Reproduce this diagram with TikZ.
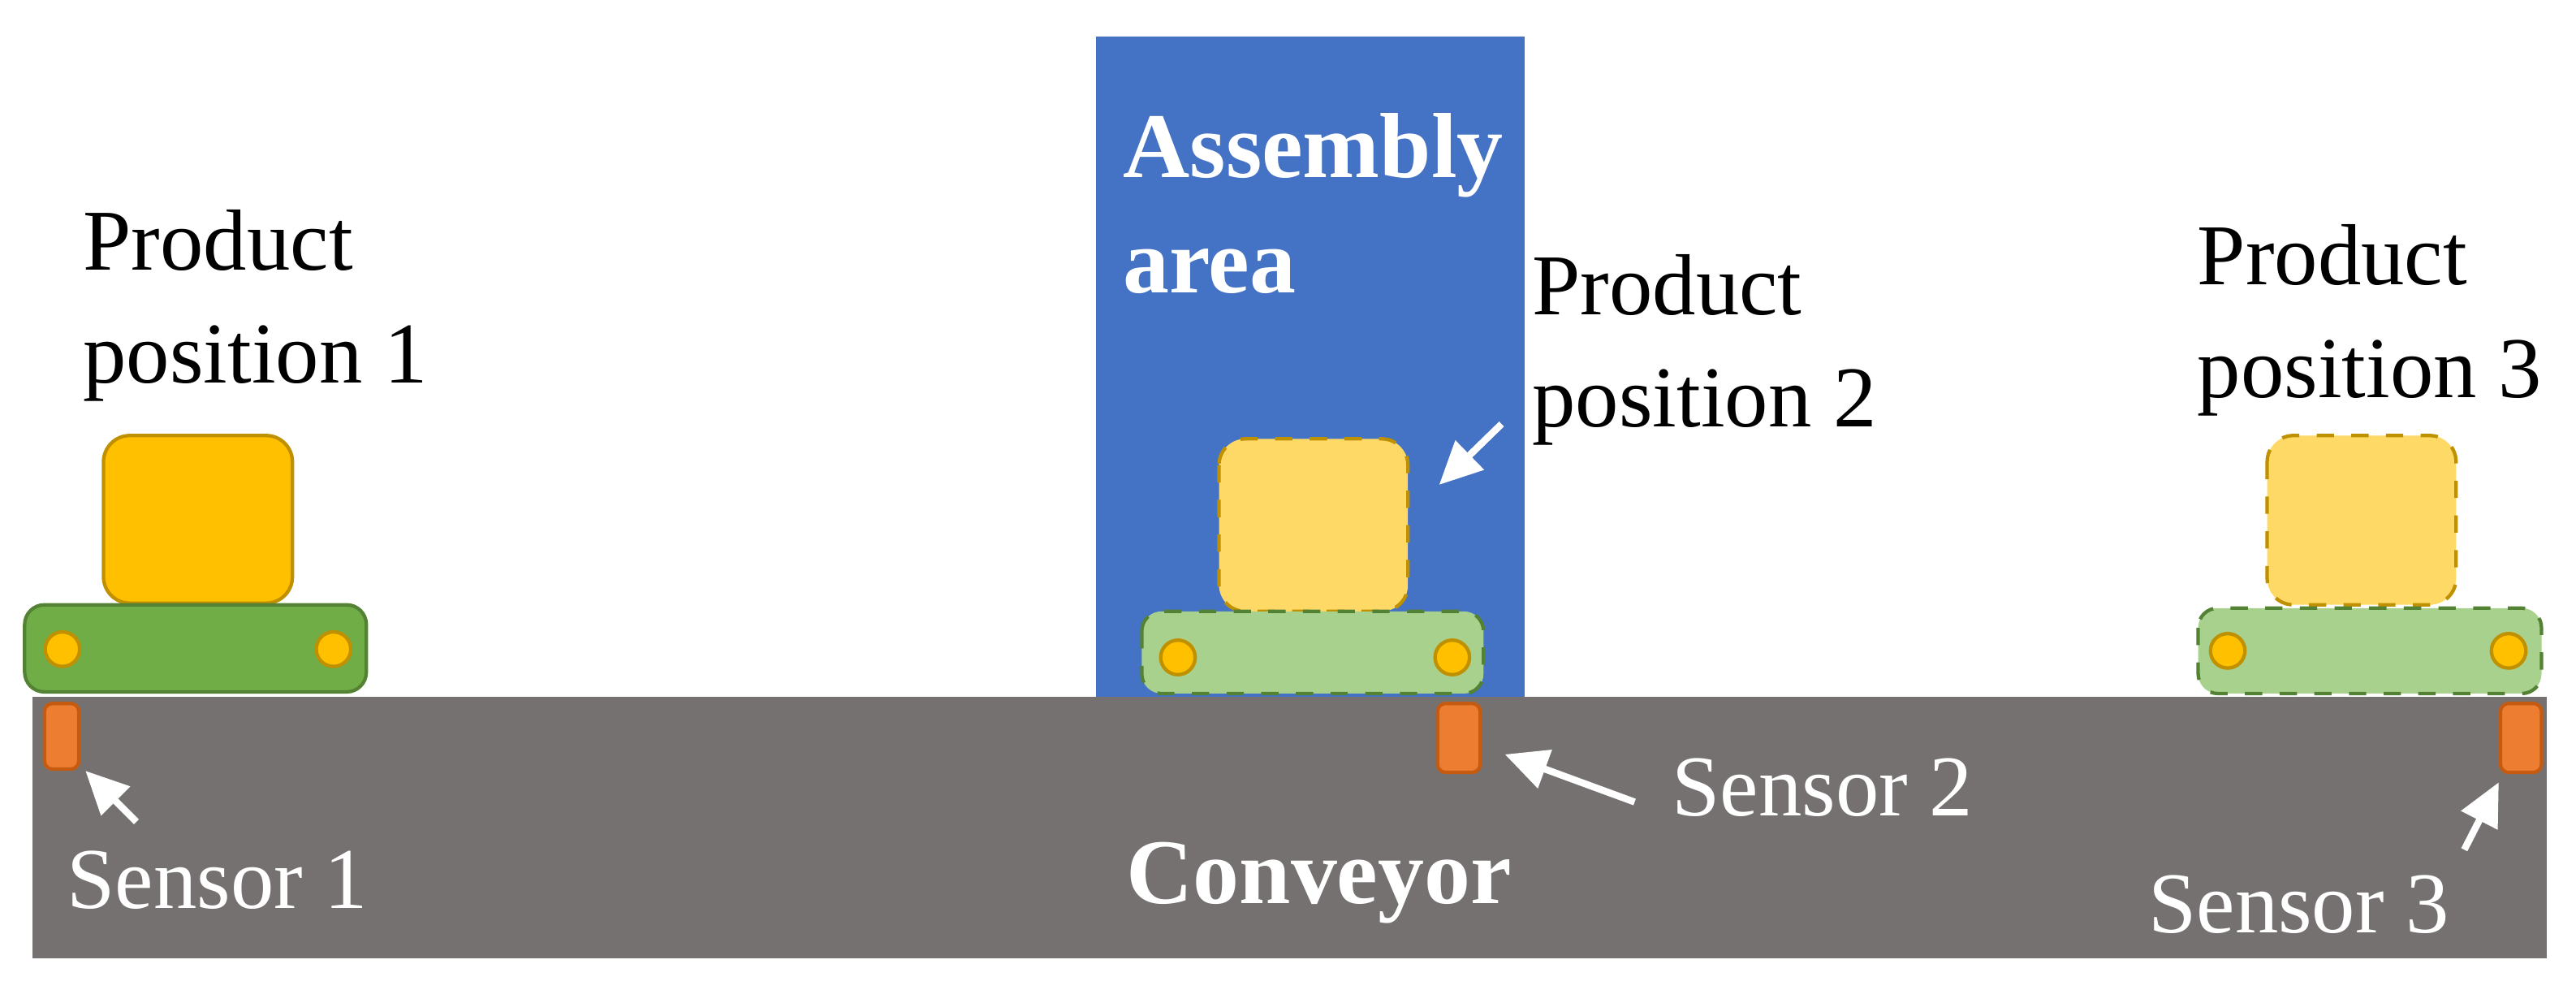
\documentclass[tikz,border=0pt]{standalone}
\usetikzlibrary{arrows.meta}
\usepackage{fontspec}
\setmainfont{Liberation Serif}
\begin{document}
\begin{tikzpicture}[x=0.01cm,y=-0.01cm,
  txt/.style={font=\fontsize{15}{19.5}\selectfont, inner sep=0pt, align=left, anchor=north west},
  wtxt/.style={txt, text=white},
  btxt/.style={wtxt, font=\fontsize{16}{20}\selectfont\bfseries},
  box/.style={rounded corners=1.6mm, line width=0.6pt},
  prod/.style={box, fill=prodY, draw=prodYD},
  prodg/.style={box, fill=prodYL, draw=prodYD, dashed},
  base/.style={box, rounded corners=1.2mm, fill=baseG, draw=baseGD},
  baseg/.style={box, rounded corners=1.2mm, fill=baseGL, draw=baseGD, dashed},
  wheel/.style={circle, fill=prodY, draw=prodYD, line width=0.6pt, minimum size=0.21cm, inner sep=0pt},
  sens/.style={fill=sensO, draw=sensOD, line width=0.6pt, rounded corners=0.5mm},
  warr/.style={-{Triangle[length=0.26cm,width=0.24cm]}, white, line width=1.2pt}]
\definecolor{prodY}{HTML}{FFC000}
\definecolor{prodYL}{HTML}{FFD966}
\definecolor{prodYD}{HTML}{BF9000}
\definecolor{baseG}{HTML}{70AD47}
\definecolor{baseGL}{HTML}{A9D18E}
\definecolor{baseGD}{HTML}{548235}
\definecolor{sensO}{HTML}{ED7D31}
\definecolor{sensOD}{HTML}{C55A11}
\definecolor{conv}{HTML}{767171}
\definecolor{asm}{HTML}{4472C4}
\useasboundingbox (0,0) rectangle (1568,602);
% conveyor and assembly area
\fill[conv] (20,424) rectangle (1550,583);
\fill[asm] (667,22) rectangle (928,424);
\node[btxt] (asmt) at (683,68) {Assembly\\area};
% products
\draw[prod] (63,265) rectangle (178,367);
\draw[base] (15,368) rectangle (223,421);
\node[wheel] (w1a) at (38,395) {};
\node[wheel] (w1b) at (203,395) {};
\draw[prodg] (742,267) rectangle (857,372);
\draw[baseg] (695,372) rectangle (903,422);
\node[wheel] (w2a) at (717,400) {};
\node[wheel] (w2b) at (884,400) {};
\draw[prodg] (1380,265) rectangle (1495,368);
\draw[baseg] (1338,370) rectangle (1547,422);
\node[wheel] (w3a) at (1356,396) {};
\node[wheel] (w3b) at (1527,396) {};
% sensors
\draw[sens] (27,428) rectangle (48,468);
\draw[sens] (875,428) rectangle (901,470);
\draw[sens] (1522,428) rectangle (1547,470);
% labels
\node[txt] (p1) at (50,127) {Product\\position 1};
\node[txt] (p2) at (932,154) {Product\\position 2};
\node[txt] (p3) at (1337,136) {Product\\position 3};
\node[wtxt] (s1) at (40,517) {Sensor 1};
\node[wtxt] (s2) at (1017,461) {Sensor 2};
\node[wtxt] (s3) at (1307,532) {Sensor 3};
\node[btxt] (cv) at (685,512) {Conveyor};
% arrows
\coordinate (a1s) at (83,500); \coordinate (a1e) at (52,469);
\coordinate (a2s) at (995,488); \coordinate (a2e) at (916,459);
\coordinate (a3s) at (1500,517); \coordinate (a3e) at (1521,476);
\coordinate (a4s) at (914,258); \coordinate (a4e) at (876,295);
\draw[warr] (a1s) -- (a1e);
\draw[warr] (a2s) -- (a2e);
\draw[warr] (a3s) -- (a3e);
\draw[warr] (a4s) -- (a4e);
\end{tikzpicture}
\end{document}
